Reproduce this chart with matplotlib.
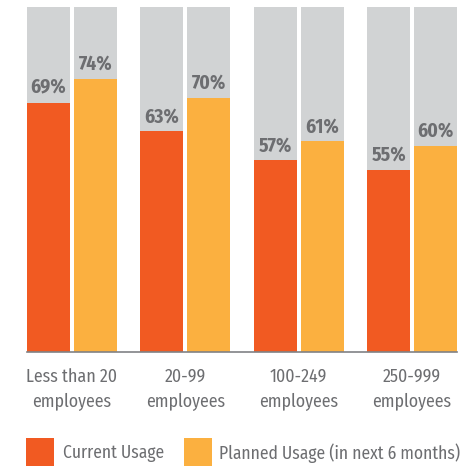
import matplotlib
matplotlib.use("Agg")
import matplotlib.pyplot as plt
from matplotlib.patches import Rectangle

categories = ["Less than 20\nemployees", "20-99\nemployees", "100-249\nemployees", "250-999\nemployees"]
current_usage = [69, 63, 57, 55]
planned_usage = [74, 70, 61, 60]
series_names = ["Current Usage", "Planned Usage (in next 6 months)"]

RED = "#F15A22"
ORANGE = "#FBB040"
GRAY = "#D1D3D4"
TEXT = "#6D6E71"

plt.rcParams["font.family"] = ["Fira Sans Condensed", "DejaVu Sans"]

fig = plt.figure(figsize=(4.74, 4.67), dpi=100)
ax = fig.add_axes([27 / 474, 1 - 352.3 / 467, 430 / 474, 345.8 / 467])

width = 0.378
offset = 0.2067
xs = list(range(len(categories)))

for i, (cur, plan) in enumerate(zip(current_usage, planned_usage)):
    for x, val, col in ((i - offset, cur, RED), (i + offset, plan, ORANGE)):
        ax.bar(x, 100, width=width, color=GRAY, zorder=1)
        ax.bar(x, val, width=width, color=col, zorder=2)
        ax.text(x, val + 1.0, f"{val}%", ha="center", va="bottom",
                fontsize=14, fontweight="bold", color=TEXT, zorder=3)

ax.set_xlim(-0.396, len(categories) - 1 + 0.396)
ax.set_ylim(17, 89)
ax.axhline(17, color="#808285", lw=1.2, zorder=4, clip_on=False)
for s in ax.spines.values():
    s.set_visible(False)
ax.set_yticks([])
ax.set_xticks(xs)
ax.set_xticklabels(categories, fontsize=12.8, color=TEXT, linespacing=1.55)
ax.tick_params(axis="x", length=0, pad=11)

# legend
leg_y = 1 - 466 / 467
sq_h = 28 / 467
sq_w = 28 / 474
for (x0, tx), name, col in zip(((26, 63), (184, 219)), series_names, (RED, ORANGE)):
    fig.patches.append(Rectangle((x0 / 474, leg_y), sq_w, sq_h, transform=fig.transFigure,
                                 facecolor=col, edgecolor="none"))
    fig.text(tx / 474, 1 - 453 / 467, name, ha="left", va="center",
             fontsize=12.6, color=TEXT)

fig.savefig("out.png", dpi=100)
